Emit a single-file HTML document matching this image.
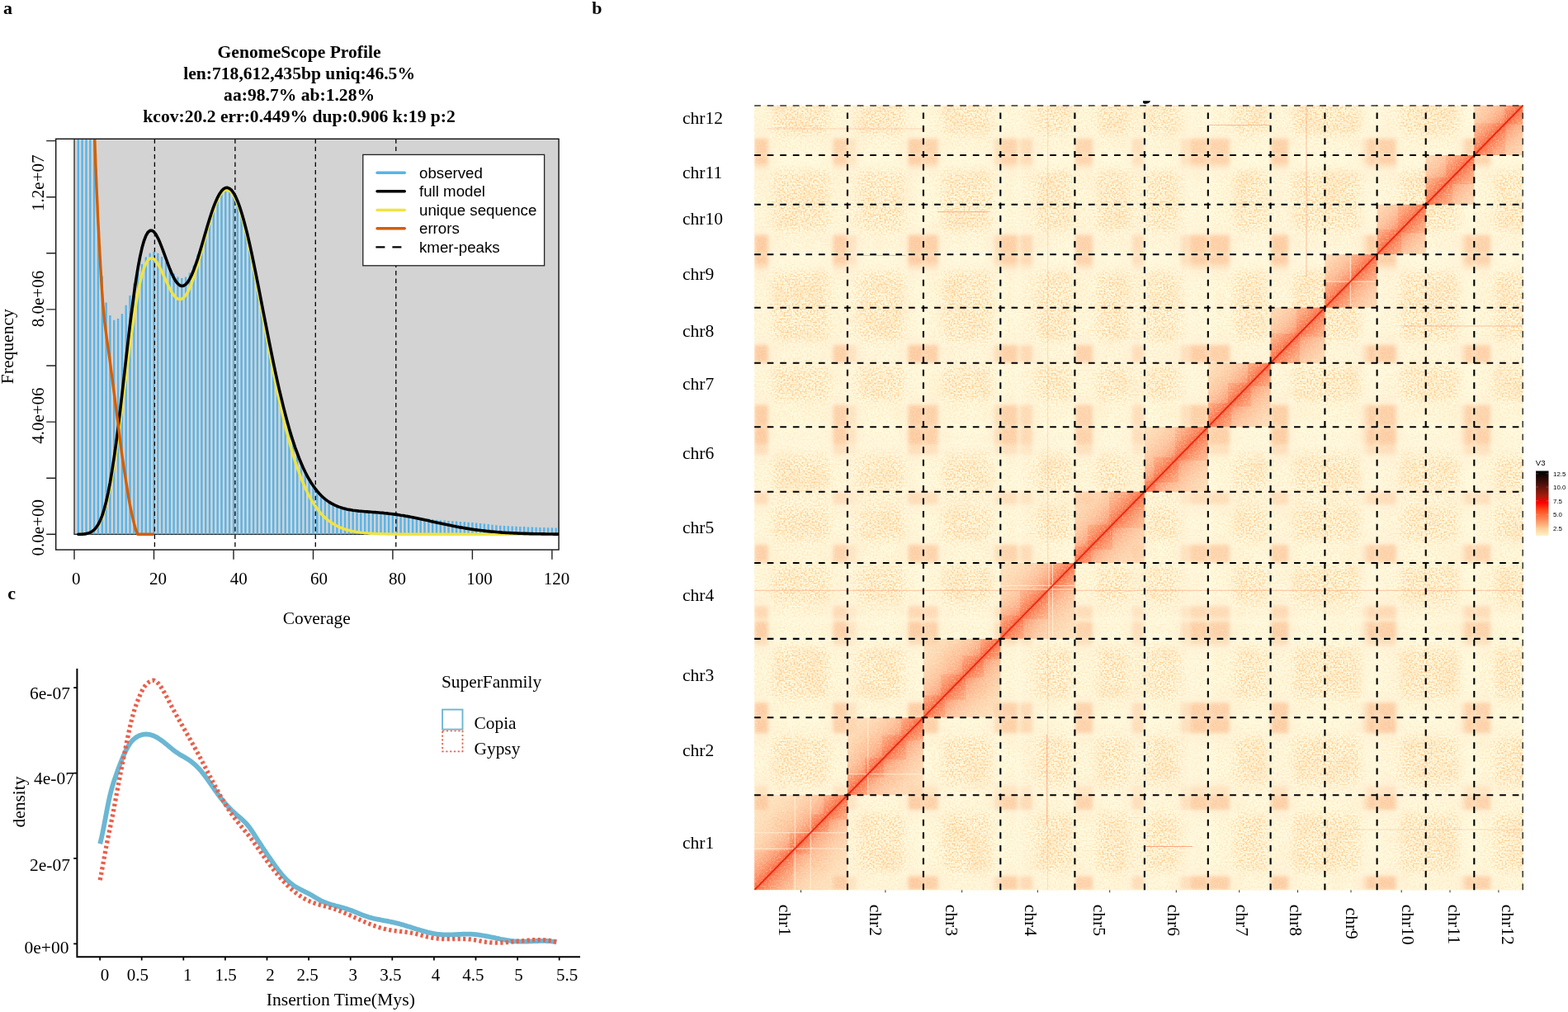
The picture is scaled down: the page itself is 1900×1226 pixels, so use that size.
<!DOCTYPE html>
<html lang="en"><head><meta charset="utf-8"><title>Figure</title>
<style>
html,body{margin:0;padding:0;background:#fff;}
body{width:1900px;height:1226px;overflow:hidden;}
svg{display:block;}
.serif{font-family:"Liberation Serif","DejaVu Serif",serif;}
.sans{font-family:"Liberation Sans","DejaVu Sans",sans-serif;}
text{fill:#000;}
</style></head>
<body>
<svg width="1900" height="1226" viewBox="0 0 1900 1226">
<rect width="1900" height="1226" fill="#fff"/>
<g id="panel-a">
<clipPath id="ca"><rect x="67.7" y="168.3" width="609.4" height="497.7"/></clipPath>
<g clip-path="url(#ca)">
<rect x="90.0" y="100" width="700" height="547.3" fill="#d3d3d3" stroke="#222" stroke-width="1.3"/>
<path d="M94.8,647.3V150M99.6,647.3V150M104.5,647.3V150M109.3,647.3V150M114.1,647.3V150M118.9,647.3V265.9M123.8,647.3V334.4M128.6,647.3V366.4M133.4,647.3V382.1M138.2,647.3V387.8M143.1,647.3V386.1M147.9,647.3V380.3M152.7,647.3V369.8M157.5,647.3V357.9M162.4,647.3V343.6M167.2,647.3V330.6M172,647.3V319.7M176.8,647.3V311.6M181.7,647.3V306.8M186.5,647.3V304.8M191.3,647.3V306.8M196.1,647.3V310.9M201,647.3V317.4M205.8,647.3V324.8M210.6,647.3V331.3M215.4,647.3V335.4M220.3,647.3V337.1M225.1,647.3V335.4M229.9,647.3V330.6M234.7,647.3V321.4M239.6,647.3V308.5M244.4,647.3V295.6M249.2,647.3V280.9M254,647.3V264.9M258.8,647.3V250.6M263.7,647.3V239.1M268.5,647.3V231.2M273.3,647.3V227.5M278.1,647.3V228.3M283,647.3V233.7M287.8,647.3V243.4M292.6,647.3V257.2M297.4,647.3V274.5M302.3,647.3V294.7M307.1,647.3V317.1M311.9,647.3V340.9M316.7,647.3V365.7M321.6,647.3V390.6M326.4,647.3V415.1M331.2,647.3V438.8M336,647.3V461.4M340.9,647.3V482.4M345.7,647.3V501.8M350.5,647.3V519.4M355.3,647.3V535.1M360.2,647.3V549M365,647.3V561.2M369.8,647.3V571.8M374.6,647.3V580.8M379.5,647.3V588.5M384.3,647.3V594.9M389.1,647.3V600.2M393.9,647.3V604.6M398.7,647.3V608.1M403.6,647.3V610.9M408.4,647.3V613.2M413.2,647.3V614.9M418,647.3V616.3M422.9,647.3V617.4M427.7,647.3V618.2M432.5,647.3V618.8M437.3,647.3V619.3M442.2,647.3V619.7M447,647.3V620.1M451.8,647.3V620.5M456.6,647.3V620.8M461.5,647.3V621.2M466.3,647.3V621.7M471.1,647.3V622.2M475.9,647.3V622.8M480.8,647.3V623.4M485.6,647.3V624.2M490.4,647.3V624.9M495.2,647.3V625.8M500.1,647.3V626.7M504.9,647.3V626.9M509.7,647.3V627.4M514.5,647.3V628M519.4,647.3V628.6M524.2,647.3V629.1M529,647.3V629.7M533.8,647.3V630.3M538.7,647.3V630.6M543.5,647.3V631M548.3,647.3V631.3M553.1,647.3V631.6M557.9,647.3V632M562.8,647.3V632.3M567.6,647.3V632.7M572.4,647.3V633M577.2,647.3V633.5M582.1,647.3V634.1M586.9,647.3V634.6M591.7,647.3V635.1M596.5,647.3V635.7M601.4,647.3V636.2M606.2,647.3V636.7M611,647.3V637M615.8,647.3V637.2M620.7,647.3V637.4M625.5,647.3V637.7M630.3,647.3V637.9M635.1,647.3V638.1M640,647.3V638.4M644.8,647.3V638.6M649.6,647.3V638.8M654.4,647.3V638.9M659.3,647.3V639M664.1,647.3V639.2M668.9,647.3V639.3M673.7,647.3V639.5" stroke="#56b4e9" stroke-width="2.4" fill="none"/>
<line x1="187.4" y1="168.3" x2="187.4" y2="666.0" stroke="#000" stroke-width="1.3" stroke-dasharray="5.4 4"/>
<line x1="284.9" y1="168.3" x2="284.9" y2="666.0" stroke="#000" stroke-width="1.3" stroke-dasharray="5.4 4"/>
<line x1="382.3" y1="168.3" x2="382.3" y2="666.0" stroke="#000" stroke-width="1.3" stroke-dasharray="5.4 4"/>
<line x1="479.8" y1="168.3" x2="479.8" y2="666.0" stroke="#000" stroke-width="1.3" stroke-dasharray="5.4 4"/>
<path d="M94.8,647.3 L97.2,647.2 L99.6,647.1 L102.1,646.9 L104.5,646.6 L106.9,646.1 L109.3,645.3 L111.7,644.1 L114.1,642.3 L116.5,639.8 L118.9,636.5 L121.4,632.2 L123.8,626.7 L126.2,619.9 L128.6,611.6 L131,601.9 L133.4,590.5 L135.8,577.6 L138.2,563.2 L140.7,547.4 L143.1,530.3 L145.5,512.3 L147.9,493.6 L150.3,474.4 L152.7,455.1 L155.1,436 L157.5,417.4 L160,399.7 L162.4,383.1 L164.8,368 L167.2,354.4 L169.6,342.7 L172,332.9 L174.4,325 L176.8,319.1 L179.2,315.2 L181.7,313.1 L184.1,312.6 L186.5,313.8 L188.9,316.2 L191.3,319.7 L193.7,324.1 L196.1,329 L198.5,334.3 L201,339.7 L203.4,344.9 L205.8,349.8 L208.2,354.1 L210.6,357.7 L213,360.3 L215.4,362 L217.8,362.6 L220.3,362.1 L222.7,360.4 L225.1,357.6 L227.5,353.7 L229.9,348.7 L232.3,342.8 L234.7,336 L237.1,328.6 L239.6,320.5 L242,312.1 L244.4,303.3 L246.8,294.5 L249.2,285.6 L251.6,277 L254,268.8 L256.4,261 L258.8,253.9 L261.3,247.5 L263.7,242 L266.1,237.4 L268.5,233.9 L270.9,231.4 L273.3,230.1 L275.7,230 L278.1,231.1 L280.6,233.3 L283,236.7 L285.4,241.2 L287.8,246.8 L290.2,253.5 L292.6,261.1 L295,269.7 L297.4,279.1 L299.9,289.2 L302.3,300 L304.7,311.3 L307.1,323.2 L309.5,335.4 L311.9,348 L314.3,360.7 L316.7,373.6 L319.1,386.6 L321.6,399.6 L324,412.4 L326.4,425.2 L328.8,437.7 L331.2,450 L333.6,462 L336,473.6 L338.4,484.9 L340.9,495.7 L343.3,506.2 L345.7,516.2 L348.1,525.7 L350.5,534.8 L352.9,543.4 L355.3,551.5 L357.7,559.2 L360.2,566.4 L362.6,573.2 L365,579.5 L367.4,585.4 L369.8,590.9 L372.2,596 L374.6,600.8 L377,605.1 L379.5,609.1 L381.9,612.8 L384.3,616.2 L386.7,619.3 L389.1,622.2 L391.5,624.7 L393.9,627.1 L396.3,629.2 L398.7,631.2 L401.2,632.9 L403.6,634.5 L406,635.9 L408.4,637.2 L410.8,638.3 L413.2,639.4 L415.6,640.3 L418,641.1 L420.5,641.9 L422.9,642.5 L425.3,643.1 L427.7,643.6 L430.1,644.1 L432.5,644.5 L434.9,644.8 L437.3,645.1 L439.8,645.4 L442.2,645.7 L444.6,645.9 L447,646.1 L449.4,646.2 L451.8,646.4 L454.2,646.5 L456.6,646.6 L459.1,646.7 L461.5,646.8 L463.9,646.9 L466.3,646.9 L468.7,647 L471.1,647 L473.5,647.1 L475.9,647.1 L478.3,647.1 L480.8,647.1 L483.2,647.2 L485.6,647.2 L488,647.2 L490.4,647.2 L492.8,647.2 L495.2,647.2 L497.6,647.3 L500.1,647.3 L502.5,647.3 L504.9,647.3 L507.3,647.3 L509.7,647.3 L512.1,647.3 L514.5,647.3 L516.9,647.3 L519.4,647.3 L521.8,647.3 L524.2,647.3 L526.6,647.3 L529,647.3 L531.4,647.3 L533.8,647.3 L536.2,647.3 L538.7,647.3 L541.1,647.3 L543.5,647.3 L545.9,647.3 L548.3,647.3 L550.7,647.3 L553.1,647.3 L555.5,647.3 L557.9,647.3 L560.4,647.3 L562.8,647.3 L565.2,647.3 L567.6,647.3 L570,647.3 L572.4,647.3 L574.8,647.3 L577.2,647.3 L579.7,647.3 L582.1,647.3 L584.5,647.3 L586.9,647.3 L589.3,647.3 L591.7,647.3 L594.1,647.3 L596.5,647.3 L599,647.3 L601.4,647.3 L603.8,647.3 L606.2,647.3 L608.6,647.3 L611,647.3 L613.4,647.3 L615.8,647.3 L618.2,647.3 L620.7,647.3 L623.1,647.3 L625.5,647.3 L627.9,647.3 L630.3,647.3 L632.7,647.3 L635.1,647.3 L637.5,647.3 L640,647.3 L642.4,647.3 L644.8,647.3 L647.2,647.3 L649.6,647.3 L652,647.3 L654.4,647.3 L656.8,647.3 L659.3,647.3 L661.7,647.3 L664.1,647.3 L666.5,647.3 L668.9,647.3 L671.3,647.3 L673.7,647.3 L676.1,647.3 L678.6,647.3" stroke="#f0e442" stroke-width="3.4" fill="none" stroke-linejoin="round" stroke-linecap="round"/>
<path d="M94.8,647.3 L97.2,647.2 L99.6,647.1 L102.1,646.9 L104.5,646.6 L106.9,646 L109.3,645.1 L111.7,643.7 L114.1,641.8 L116.5,639.1 L118.9,635.4 L121.4,630.6 L123.8,624.6 L126.2,617 L128.6,607.9 L131,597.1 L133.4,584.6 L135.8,570.3 L138.2,554.4 L140.7,537 L143.1,518.2 L145.5,498.3 L147.9,477.6 L150.3,456.4 L152.7,435.1 L155.1,414 L157.5,393.5 L160,374 L162.4,355.8 L164.8,339.1 L167.2,324.2 L169.6,311.3 L172,300.6 L174.4,292 L176.8,285.7 L179.2,281.5 L181.7,279.4 L184.1,279.3 L186.5,280.8 L188.9,283.9 L191.3,288.3 L193.7,293.6 L196.1,299.7 L198.5,306.2 L201,312.9 L203.4,319.5 L205.8,325.8 L208.2,331.5 L210.6,336.5 L213,340.6 L215.4,343.7 L217.8,345.7 L220.3,346.5 L222.7,346.1 L225.1,344.5 L227.5,341.8 L229.9,337.9 L232.3,333 L234.7,327.2 L237.1,320.6 L239.6,313.4 L242,305.6 L244.4,297.5 L246.8,289.2 L249.2,280.9 L251.6,272.8 L254,264.9 L256.4,257.5 L258.8,250.6 L261.3,244.4 L263.7,239.1 L266.1,234.7 L268.5,231.2 L270.9,228.8 L273.3,227.5 L275.7,227.3 L278.1,228.3 L280.6,230.4 L283,233.7 L285.4,238 L287.8,243.4 L290.2,249.9 L292.6,257.2 L295,265.5 L297.4,274.5 L299.9,284.3 L302.3,294.7 L304.7,305.6 L307.1,317.1 L309.5,328.9 L311.9,340.9 L314.3,353.2 L316.7,365.7 L319.1,378.1 L321.6,390.6 L324,402.9 L326.4,415.1 L328.8,427.1 L331.2,438.8 L333.6,450.3 L336,461.4 L338.4,472.1 L340.9,482.4 L343.3,492.3 L345.7,501.8 L348.1,510.8 L350.5,519.4 L352.9,527.5 L355.3,535.1 L357.7,542.3 L360.2,549 L362.6,555.4 L365,561.2 L367.4,566.7 L369.8,571.8 L372.2,576.5 L374.6,580.8 L377,584.8 L379.5,588.5 L381.9,591.8 L384.3,594.9 L386.7,597.7 L389.1,600.2 L391.5,602.5 L393.9,604.6 L396.3,606.4 L398.7,608.1 L401.2,609.6 L403.6,610.9 L406,612.1 L408.4,613.2 L410.8,614.1 L413.2,614.9 L415.6,615.7 L418,616.3 L420.5,616.9 L422.9,617.4 L425.3,617.8 L427.7,618.2 L430.1,618.5 L432.5,618.8 L434.9,619.1 L437.3,619.3 L439.8,619.5 L442.2,619.7 L444.6,619.9 L447,620.1 L449.4,620.3 L451.8,620.5 L454.2,620.6 L456.6,620.8 L459.1,621 L461.5,621.2 L463.9,621.4 L466.3,621.7 L468.7,621.9 L471.1,622.2 L473.5,622.5 L475.9,622.8 L478.3,623.1 L480.8,623.4 L483.2,623.8 L485.6,624.2 L488,624.5 L490.4,624.9 L492.8,625.4 L495.2,625.8 L497.6,626.3 L500.1,626.7 L502.5,627.2 L504.9,627.7 L507.3,628.2 L509.7,628.7 L512.1,629.2 L514.5,629.8 L516.9,630.3 L519.4,630.8 L521.8,631.4 L524.2,631.9 L526.6,632.4 L529,633 L531.4,633.5 L533.8,634 L536.2,634.5 L538.7,635.1 L541.1,635.6 L543.5,636.1 L545.9,636.6 L548.3,637.1 L550.7,637.5 L553.1,638 L555.5,638.4 L557.9,638.9 L560.4,639.3 L562.8,639.7 L565.2,640.1 L567.6,640.5 L570,640.9 L572.4,641.2 L574.8,641.6 L577.2,641.9 L579.7,642.2 L582.1,642.5 L584.5,642.8 L586.9,643.1 L589.3,643.4 L591.7,643.6 L594.1,643.9 L596.5,644.1 L599,644.3 L601.4,644.5 L603.8,644.7 L606.2,644.9 L608.6,645.1 L611,645.2 L613.4,645.4 L615.8,645.5 L618.2,645.6 L620.7,645.8 L623.1,645.9 L625.5,646 L627.9,646.1 L630.3,646.2 L632.7,646.3 L635.1,646.4 L637.5,646.4 L640,646.5 L642.4,646.6 L644.8,646.6 L647.2,646.7 L649.6,646.7 L652,646.8 L654.4,646.8 L656.8,646.9 L659.3,646.9 L661.7,647 L664.1,647 L666.5,647 L668.9,647 L671.3,647.1 L673.7,647.1 L676.1,647.1 L678.6,647.1" stroke="#000" stroke-width="3.6" fill="none" stroke-linejoin="round" stroke-linecap="round"/>
<path d="M114,150 L114.2,156.3 L114.5,162.6 L114.7,168.9 L115,175.2 L115.2,181.5 L115.5,187.8 L115.7,194.1 L115.9,200.4 L116.2,206.7 L116.4,212.9 L116.7,219.2 L116.9,225.5 L117.2,231.8 L117.5,238.1 L117.8,244.4 L118.1,250.7 L118.3,257 L118.6,263.3 L118.9,269.6 L119.3,275.9 L119.6,282.2 L119.9,288.5 L120.2,294.8 L120.6,301.1 L120.9,307.4 L121.3,313.7 L121.6,320 L122,326.3 L122.4,332.6 L122.7,338.8 L123.1,345.1 L123.5,351.4 L124,357.7 L124.4,364 L124.9,370.3 L125.5,376.6 L126.1,382.9 L126.7,389.2 L127.5,395.5 L128.3,401.8 L129.1,408.1 L130,414.4 L130.9,420.7 L131.8,427 L132.7,433.3 L133.5,439.6 L134.3,445.9 L135.1,452.2 L136,458.5 L136.8,464.7 L137.6,471 L138.4,477.3 L139.2,483.6 L140,489.9 L140.8,496.2 L141.6,502.5 L142.5,508.8 L143.3,515.1 L144,521.4 L144.8,527.7 L145.6,534 L146.4,540.3 L147.2,546.6 L148.1,552.9 L149,559.2 L149.9,565.5 L150.9,571.8 L151.9,578.1 L152.9,584.4 L153.9,590.6 L154.9,596.9 L155.9,603.2 L157,609.5 L158.3,615.8 L159.6,622.1 L161.1,628.4 L162.6,634.7 L164.3,641 L166.8,647.3 L186.5,647.3" stroke="#d55e00" stroke-width="3.4" fill="none" stroke-linejoin="round" stroke-linecap="butt"/>
</g>
<rect x="67.7" y="168.3" width="609.4" height="497.7" fill="none" stroke="#111" stroke-width="1.4"/>
<path d="M90,666.0V677.7M186.5,666.0V677.7M283,666.0V677.7M379.5,666.0V677.7M475.9,666.0V677.7M572.4,666.0V677.7M668.9,666.0V677.7M67.7,647.3H56.2M67.7,579.2H56.2M67.7,511.1H56.2M67.7,443H56.2M67.7,374.9H56.2M67.7,306.8H56.2M67.7,238.7H56.2M67.7,170.6H56.2" stroke="#222" stroke-width="1.4" fill="none"/>
<rect x="439.8" y="187.4" width="219.8" height="134.4" fill="#fff" stroke="#222" stroke-width="1.3"/>
<line x1="457" y1="209.3" x2="490.3" y2="209.3" stroke="#56b4e9" stroke-width="3.4" stroke-linecap="round"/>
<line x1="457" y1="231.8" x2="490.3" y2="231.8" stroke="#000" stroke-width="3.4" stroke-linecap="round"/>
<line x1="457" y1="254.5" x2="490.3" y2="254.5" stroke="#f0e442" stroke-width="3.4" stroke-linecap="round"/>
<line x1="457" y1="276.8" x2="490.3" y2="276.8" stroke="#d55e00" stroke-width="3.4" stroke-linecap="round"/>
<line x1="455.4" y1="299.3" x2="491.9" y2="299.3" stroke="#000" stroke-width="2.2" stroke-dasharray="11 9"/>
<text x="508" y="215.6" class="sans" font-size="18.7">observed</text>
<text x="508" y="238.1" class="sans" font-size="18.7">full model</text>
<text x="508" y="260.8" class="sans" font-size="18.7">unique sequence</text>
<text x="508" y="283.1" class="sans" font-size="18.7">errors</text>
<text x="508" y="305.6" class="sans" font-size="18.7">kmer-peaks</text>
<text x="362.6" y="70.1" class="serif" font-weight="bold" font-size="21.6" text-anchor="middle">GenomeScope Profile</text>
<text x="362.6" y="95.8" class="serif" font-weight="bold" font-size="21.6" text-anchor="middle">len:718,612,435bp uniq:46.5%</text>
<text x="362.6" y="121.7" class="serif" font-weight="bold" font-size="21.6" text-anchor="middle">aa:98.7% ab:1.28%</text>
<text x="362.6" y="147.8" class="serif" font-weight="bold" font-size="21.6" text-anchor="middle">kcov:20.2 err:0.449% dup:0.906 k:19 p:2</text>
<text x="92.2" y="708" class="serif" font-size="21" text-anchor="middle">0</text>
<text x="191.5" y="708" class="serif" font-size="21" text-anchor="middle">20</text>
<text x="289.3" y="708" class="serif" font-size="21" text-anchor="middle">40</text>
<text x="386.5" y="708" class="serif" font-size="21" text-anchor="middle">60</text>
<text x="481.5" y="708" class="serif" font-size="21" text-anchor="middle">80</text>
<text x="581.1" y="708" class="serif" font-size="21" text-anchor="middle">100</text>
<text x="674.6" y="708" class="serif" font-size="21" text-anchor="middle">120</text>
<text x="383.7" y="755.5" class="serif" font-size="21.4" text-anchor="middle">Coverage</text>
<text transform="translate(52.9,221.7) rotate(-90)" class="serif" font-size="21" text-anchor="middle">1.2e+07</text>
<text transform="translate(52.9,362) rotate(-90)" class="serif" font-size="21" text-anchor="middle">8.0e+06</text>
<text transform="translate(52.9,503.6) rotate(-90)" class="serif" font-size="21" text-anchor="middle">4.0e+06</text>
<text transform="translate(52.9,639.2) rotate(-90)" class="serif" font-size="21" text-anchor="middle">0.0e+00</text>
<text transform="translate(15.9,419.7) rotate(-90)" class="serif" font-size="21.6" text-anchor="middle">Frequency</text>
<text x="4" y="17" class="serif" font-weight="bold" font-size="22">a</text>
</g>
<g id="panel-c">
<path d="M93.4,811V1159.2H702" stroke="#000" stroke-width="2" fill="none" stroke-linecap="square"/>
<path d="M121.1,1159.2V1163.6M171.7,1159.2V1163.6M222.3,1159.2V1163.6M272.9,1159.2V1163.6M323.5,1159.2V1163.6M374.1,1159.2V1163.6M424.7,1159.2V1163.6M475.3,1159.2V1163.6M525.9,1159.2V1163.6M576.5,1159.2V1163.6M627.1,1159.2V1163.6M677.7,1159.2V1163.6M93.4,833.1H89.2M93.4,936.7H89.2M93.4,1039.9H89.2M93.4,1143.4H89.2" stroke="#000" stroke-width="1.7" fill="none"/>
<path d="M121.2,1022.3 L122.7,1016.3 L124.2,1009.4 L125.7,1001.9 L127.2,994 L128.7,986 L130.2,978.1 L131.7,970.6 L133.2,963.9 L134.7,957.9 L136.2,952.5 L137.7,947.6 L139.2,943.1 L140.7,938.9 L142.2,934.7 L143.7,930.6 L145.2,926.6 L146.7,922.7 L148.2,919 L149.7,915.4 L151.2,912.1 L152.7,908.9 L154.2,906.1 L155.7,903.5 L157.2,901.1 L158.7,899.1 L160.2,897.4 L161.7,895.9 L163.2,894.6 L164.7,893.5 L166.2,892.5 L167.7,891.7 L169.2,891 L170.7,890.5 L172.2,890.1 L173.7,889.7 L175.2,889.6 L176.7,889.5 L178.2,889.5 L179.7,889.7 L181.2,889.9 L182.7,890.3 L184.2,890.7 L185.7,891.3 L187.2,891.9 L188.7,892.6 L190.2,893.4 L191.7,894.3 L193.2,895.3 L194.7,896.3 L196.2,897.4 L197.7,898.5 L199.2,899.7 L200.7,900.9 L202.2,902.1 L203.7,903.4 L205.2,904.6 L206.7,905.9 L208.2,907.1 L209.7,908.4 L211.2,909.5 L212.7,910.7 L214.2,911.7 L215.7,912.7 L217.2,913.7 L218.7,914.6 L220.2,915.4 L221.7,916.3 L223.2,917.1 L224.7,918 L226.2,918.9 L227.7,919.8 L229.2,920.8 L230.7,921.9 L232.2,923 L233.7,924.2 L235.2,925.5 L236.7,926.8 L238.2,928.2 L239.7,929.7 L241.2,931.3 L242.7,932.9 L244.2,934.7 L245.7,936.6 L247.2,938.5 L248.7,940.5 L250.2,942.5 L251.7,944.6 L253.2,946.7 L254.7,948.8 L256.2,951 L257.7,953.2 L259.2,955.3 L260.7,957.5 L262.2,959.6 L263.7,961.7 L265.2,963.7 L266.7,965.7 L268.2,967.7 L269.7,969.5 L271.2,971.3 L272.7,973.1 L274.2,974.8 L275.7,976.4 L277.2,978 L278.7,979.6 L280.2,981.1 L281.7,982.5 L283.2,983.9 L284.7,985.3 L286.2,986.6 L287.7,987.9 L289.2,989.2 L290.7,990.5 L292.2,991.8 L293.7,993.1 L295.2,994.5 L296.7,996 L298.2,997.5 L299.7,999.2 L301.2,1001.1 L302.7,1003.1 L304.2,1005.2 L305.7,1007.4 L307.2,1009.7 L308.7,1012.1 L310.2,1014.4 L311.7,1016.8 L313.2,1019.1 L314.7,1021.4 L316.2,1023.7 L317.7,1026 L319.2,1028.3 L320.7,1030.5 L322.2,1032.7 L323.7,1035 L325.2,1037.2 L326.7,1039.3 L328.2,1041.5 L329.7,1043.7 L331.2,1045.8 L332.7,1047.9 L334.2,1050 L335.7,1052 L337.2,1054 L338.7,1055.9 L340.2,1057.8 L341.7,1059.6 L343.2,1061.3 L344.7,1062.9 L346.2,1064.5 L347.7,1066 L349.2,1067.4 L350.7,1068.8 L352.2,1070 L353.7,1071.2 L355.2,1072.3 L356.7,1073.3 L358.2,1074.3 L359.7,1075.2 L361.2,1076.1 L362.7,1076.9 L364.2,1077.7 L365.7,1078.4 L367.2,1079.2 L368.7,1079.9 L370.2,1080.7 L371.7,1081.4 L373.2,1082.2 L374.7,1082.9 L376.2,1083.7 L377.7,1084.6 L379.2,1085.5 L380.7,1086.4 L382.2,1087.3 L383.7,1088.2 L385.2,1089.1 L386.7,1089.9 L388.2,1090.7 L389.7,1091.5 L391.2,1092.2 L392.7,1092.8 L394.2,1093.4 L395.7,1094 L397.2,1094.6 L398.7,1095.1 L400.2,1095.5 L401.7,1096 L403.2,1096.4 L404.7,1096.8 L406.2,1097.3 L407.7,1097.7 L409.2,1098 L410.7,1098.4 L412.2,1098.8 L413.7,1099.2 L415.2,1099.6 L416.7,1100 L418.2,1100.5 L419.7,1100.9 L421.2,1101.4 L422.7,1101.9 L424.2,1102.4 L425.7,1103 L427.2,1103.5 L428.7,1104.1 L430.2,1104.8 L431.7,1105.4 L433.2,1106 L434.7,1106.6 L436.2,1107.3 L437.7,1107.9 L439.2,1108.5 L440.7,1109 L442.2,1109.6 L443.7,1110.1 L445.2,1110.6 L446.7,1111.1 L448.2,1111.5 L449.7,1111.9 L451.2,1112.3 L452.7,1112.6 L454.2,1113 L455.7,1113.3 L457.2,1113.6 L458.7,1113.9 L460.2,1114.2 L461.7,1114.5 L463.2,1114.8 L464.7,1115.1 L466.2,1115.4 L467.7,1115.6 L469.2,1115.9 L470.7,1116.2 L472.2,1116.5 L473.7,1116.8 L475.2,1117.1 L476.7,1117.4 L478.2,1117.8 L479.7,1118.1 L481.2,1118.5 L482.7,1118.9 L484.2,1119.3 L485.7,1119.7 L487.2,1120.1 L488.7,1120.5 L490.2,1121 L491.7,1121.4 L493.2,1121.9 L494.7,1122.4 L496.2,1122.8 L497.7,1123.3 L499.2,1123.8 L500.7,1124.3 L502.2,1124.7 L503.7,1125.2 L505.2,1125.7 L506.7,1126.1 L508.2,1126.6 L509.7,1127 L511.2,1127.5 L512.7,1127.9 L514.2,1128.3 L515.7,1128.7 L517.2,1129.1 L518.7,1129.5 L520.2,1129.8 L521.7,1130.2 L523.2,1130.5 L524.7,1130.8 L526.2,1131.1 L527.7,1131.3 L529.2,1131.6 L530.7,1131.8 L532.2,1131.9 L533.7,1132.1 L535.2,1132.2 L536.7,1132.3 L538.2,1132.4 L539.7,1132.4 L541.2,1132.4 L542.7,1132.4 L544.2,1132.4 L545.7,1132.4 L547.2,1132.3 L548.7,1132.3 L550.2,1132.2 L551.7,1132.1 L553.2,1132.1 L554.7,1132 L556.2,1131.9 L557.7,1131.8 L559.2,1131.8 L560.7,1131.7 L562.2,1131.7 L563.7,1131.6 L565.2,1131.6 L566.7,1131.6 L568.2,1131.6 L569.7,1131.7 L571.2,1131.7 L572.7,1131.8 L574.2,1131.9 L575.7,1132.1 L577.2,1132.2 L578.7,1132.4 L580.2,1132.6 L581.7,1132.8 L583.2,1133 L584.7,1133.3 L586.2,1133.5 L587.7,1133.8 L589.2,1134.1 L590.7,1134.4 L592.2,1134.7 L593.7,1135 L595.2,1135.3 L596.7,1135.6 L598.2,1135.9 L599.7,1136.2 L601.2,1136.5 L602.7,1136.8 L604.2,1137.1 L605.7,1137.5 L607.2,1137.8 L608.7,1138 L610.2,1138.3 L611.7,1138.6 L613.2,1138.9 L614.7,1139.1 L616.2,1139.3 L617.7,1139.6 L619.2,1139.8 L620.7,1140 L622.2,1140.1 L623.7,1140.3 L625.2,1140.4 L626.7,1140.5 L628.2,1140.5 L629.7,1140.6 L631.2,1140.6 L632.7,1140.6 L634.2,1140.6 L635.7,1140.6 L637.2,1140.6 L638.7,1140.5 L640.2,1140.5 L641.7,1140.4 L643.2,1140.3 L644.7,1140.3 L646.2,1140.2 L647.7,1140.1 L649.2,1140.1 L650.7,1140 L652.2,1140 L653.7,1139.9 L655.2,1139.9 L656.7,1139.9 L658.2,1139.9 L659.7,1139.9 L661.2,1139.9 L662.7,1140 L664.2,1140.1 L665.7,1140.2 L667.2,1140.3 L668.7,1140.5 L670.2,1140.7 L671.7,1140.9 L673.2,1141.2 L674.4,1141.4" stroke="#6bb7d3" stroke-width="5.8" fill="none" stroke-linejoin="round"/>
<path d="M121.2,1066.2 L122.7,1058.4 L124.2,1050.3 L125.7,1042.2 L127.2,1034 L128.7,1026 L130.2,1018.2 L131.7,1010.8 L133.2,1003.7 L134.7,996.6 L136.2,989.2 L137.7,981.4 L139.2,973.4 L140.7,965.2 L142.2,957.1 L143.7,949.2 L145.2,941.3 L146.7,933.5 L148.2,925.9 L149.7,918.2 L151.2,910.7 L152.7,903.3 L154.2,895.9 L155.7,888.7 L157.2,881.8 L158.7,875.3 L160.2,869.3 L161.7,863.9 L163.2,859.1 L164.7,854.7 L166.2,850.6 L167.7,846.8 L169.2,843.1 L170.7,839.7 L172.2,836.6 L173.7,833.9 L175.2,831.7 L176.7,829.8 L178.2,828.3 L179.7,827 L181.2,825.8 L182.7,824.9 L184.2,824.4 L185.7,824.2 L187.2,824.5 L188.7,825.3 L190.2,826.4 L191.7,827.9 L193.2,829.7 L194.7,831.7 L196.2,834 L197.7,836.5 L199.2,839.1 L200.7,841.9 L202.2,844.7 L203.7,847.6 L205.2,850.5 L206.7,853.3 L208.2,856.2 L209.7,859 L211.2,861.7 L212.7,864.5 L214.2,867.2 L215.7,869.9 L217.2,872.6 L218.7,875.2 L220.2,877.9 L221.7,880.5 L223.2,883.1 L224.7,885.8 L226.2,888.4 L227.7,891.1 L229.2,893.7 L230.7,896.3 L232.2,899 L233.7,901.7 L235.2,904.4 L236.7,907.1 L238.2,909.8 L239.7,912.6 L241.2,915.4 L242.7,918.2 L244.2,921.1 L245.7,923.9 L247.2,926.8 L248.7,929.6 L250.2,932.5 L251.7,935.4 L253.2,938.3 L254.7,941.1 L256.2,944 L257.7,946.8 L259.2,949.7 L260.7,952.5 L262.2,955.3 L263.7,958 L265.2,960.8 L266.7,963.5 L268.2,966.1 L269.7,968.7 L271.2,971.3 L272.7,973.8 L274.2,976.3 L275.7,978.7 L277.2,981 L278.7,983.3 L280.2,985.5 L281.7,987.6 L283.2,989.6 L284.7,991.6 L286.2,993.6 L287.7,995.5 L289.2,997.3 L290.7,999.2 L292.2,1001 L293.7,1002.8 L295.2,1004.7 L296.7,1006.5 L298.2,1008.3 L299.7,1010.2 L301.2,1012 L302.7,1014 L304.2,1015.9 L305.7,1017.9 L307.2,1020 L308.7,1022.1 L310.2,1024.2 L311.7,1026.3 L313.2,1028.5 L314.7,1030.6 L316.2,1032.8 L317.7,1034.9 L319.2,1037.1 L320.7,1039.2 L322.2,1041.3 L323.7,1043.4 L325.2,1045.4 L326.7,1047.4 L328.2,1049.4 L329.7,1051.3 L331.2,1053.3 L332.7,1055.1 L334.2,1057 L335.7,1058.8 L337.2,1060.6 L338.7,1062.3 L340.2,1064.1 L341.7,1065.7 L343.2,1067.4 L344.7,1069 L346.2,1070.5 L347.7,1072.1 L349.2,1073.5 L350.7,1075 L352.2,1076.4 L353.7,1077.7 L355.2,1079 L356.7,1080.3 L358.2,1081.5 L359.7,1082.6 L361.2,1083.8 L362.7,1084.8 L364.2,1085.8 L365.7,1086.8 L367.2,1087.7 L368.7,1088.6 L370.2,1089.4 L371.7,1090.2 L373.2,1090.9 L374.7,1091.6 L376.2,1092.3 L377.7,1092.9 L379.2,1093.4 L380.7,1094 L382.2,1094.5 L383.7,1095 L385.2,1095.5 L386.7,1095.9 L388.2,1096.4 L389.7,1096.8 L391.2,1097.2 L392.7,1097.6 L394.2,1098 L395.7,1098.4 L397.2,1098.8 L398.7,1099.3 L400.2,1099.7 L401.7,1100.1 L403.2,1100.6 L404.7,1101.1 L406.2,1101.6 L407.7,1102.1 L409.2,1102.7 L410.7,1103.2 L412.2,1103.8 L413.7,1104.4 L415.2,1105 L416.7,1105.7 L418.2,1106.3 L419.7,1106.9 L421.2,1107.6 L422.7,1108.3 L424.2,1108.9 L425.7,1109.6 L427.2,1110.3 L428.7,1111 L430.2,1111.7 L431.7,1112.4 L433.2,1113 L434.7,1113.7 L436.2,1114.4 L437.7,1115.1 L439.2,1115.7 L440.7,1116.4 L442.2,1117 L443.7,1117.7 L445.2,1118.3 L446.7,1118.9 L448.2,1119.5 L449.7,1120.1 L451.2,1120.7 L452.7,1121.2 L454.2,1121.8 L455.7,1122.3 L457.2,1122.8 L458.7,1123.3 L460.2,1123.8 L461.7,1124.2 L463.2,1124.6 L464.7,1125 L466.2,1125.4 L467.7,1125.7 L469.2,1126.1 L470.7,1126.4 L472.2,1126.7 L473.7,1126.9 L475.2,1127.2 L476.7,1127.4 L478.2,1127.6 L479.7,1127.8 L481.2,1128 L482.7,1128.1 L484.2,1128.3 L485.7,1128.4 L487.2,1128.6 L488.7,1128.7 L490.2,1128.9 L491.7,1129.1 L493.2,1129.3 L494.7,1129.5 L496.2,1129.7 L497.7,1130 L499.2,1130.3 L500.7,1130.6 L502.2,1130.9 L503.7,1131.3 L505.2,1131.7 L506.7,1132 L508.2,1132.4 L509.7,1132.8 L511.2,1133.2 L512.7,1133.6 L514.2,1134 L515.7,1134.4 L517.2,1134.8 L518.7,1135.1 L520.2,1135.4 L521.7,1135.7 L523.2,1136 L524.7,1136.3 L526.2,1136.5 L527.7,1136.7 L529.2,1136.9 L530.7,1137.1 L532.2,1137.3 L533.7,1137.4 L535.2,1137.5 L536.7,1137.6 L538.2,1137.6 L539.7,1137.7 L541.2,1137.7 L542.7,1137.7 L544.2,1137.7 L545.7,1137.7 L547.2,1137.7 L548.7,1137.6 L550.2,1137.6 L551.7,1137.6 L553.2,1137.5 L554.7,1137.5 L556.2,1137.5 L557.7,1137.5 L559.2,1137.5 L560.7,1137.5 L562.2,1137.5 L563.7,1137.6 L565.2,1137.6 L566.7,1137.7 L568.2,1137.9 L569.7,1138 L571.2,1138.2 L572.7,1138.4 L574.2,1138.6 L575.7,1138.8 L577.2,1139.1 L578.7,1139.4 L580.2,1139.7 L581.7,1140 L583.2,1140.2 L584.7,1140.5 L586.2,1140.8 L587.7,1141 L589.2,1141.3 L590.7,1141.5 L592.2,1141.6 L593.7,1141.8 L595.2,1141.9 L596.7,1142 L598.2,1142 L599.7,1142.1 L601.2,1142.1 L602.7,1142.1 L604.2,1142.1 L605.7,1142.1 L607.2,1142 L608.7,1142 L610.2,1141.9 L611.7,1141.8 L613.2,1141.7 L614.7,1141.6 L616.2,1141.4 L617.7,1141.3 L619.2,1141.2 L620.7,1141 L622.2,1140.9 L623.7,1140.7 L625.2,1140.6 L626.7,1140.4 L628.2,1140.2 L629.7,1140.1 L631.2,1139.9 L632.7,1139.8 L634.2,1139.6 L635.7,1139.5 L637.2,1139.3 L638.7,1139.2 L640.2,1139.1 L641.7,1139 L643.2,1138.9 L644.7,1138.8 L646.2,1138.7 L647.7,1138.6 L649.2,1138.6 L650.7,1138.6 L652.2,1138.6 L653.7,1138.6 L655.2,1138.6 L656.7,1138.6 L658.2,1138.7 L659.7,1138.8 L661.2,1138.9 L662.7,1139 L664.2,1139.2 L665.7,1139.4 L667.2,1139.6 L668.7,1139.8 L670.2,1140.1 L671.7,1140.4 L673.2,1140.7 L674.4,1141" stroke="#e8604c" stroke-width="5.3" fill="none" stroke-linejoin="round" stroke-dasharray="3.2 3.3"/>
<text x="126.9" y="1187.6" class="serif" font-size="21" text-anchor="middle">0</text>
<text x="166.9" y="1187.6" class="serif" font-size="21" text-anchor="middle">0.5</text>
<text x="227.2" y="1187.6" class="serif" font-size="21" text-anchor="middle">1</text>
<text x="273.5" y="1187.6" class="serif" font-size="21" text-anchor="middle">1.5</text>
<text x="327.6" y="1187.6" class="serif" font-size="21" text-anchor="middle">2</text>
<text x="372.6" y="1187.6" class="serif" font-size="21" text-anchor="middle">2.5</text>
<text x="427.8" y="1187.6" class="serif" font-size="21" text-anchor="middle">3</text>
<text x="473.4" y="1187.6" class="serif" font-size="21" text-anchor="middle">3.5</text>
<text x="528" y="1187.6" class="serif" font-size="21" text-anchor="middle">4</text>
<text x="573.3" y="1187.6" class="serif" font-size="21" text-anchor="middle">4.5</text>
<text x="628.6" y="1187.6" class="serif" font-size="21" text-anchor="middle">5</text>
<text x="687.2" y="1187.6" class="serif" font-size="21" text-anchor="middle">5.5</text>
<text x="412.8" y="1218.2" class="serif" font-size="21.7" text-anchor="middle">Insertion Time(Mys)</text>
<text x="85" y="846.6" class="serif" font-size="21.5" text-anchor="end">6e-07</text>
<text x="90" y="950" class="serif" font-size="21.5" text-anchor="end">4e-07</text>
<text x="85" y="1054.8" class="serif" font-size="21.5" text-anchor="end">2e-07</text>
<text x="83.4" y="1154.8" class="serif" font-size="21.5" text-anchor="end">0e+00</text>
<text transform="translate(29.5,971.5) rotate(-90)" class="serif" font-size="21.5" text-anchor="middle">density</text>
<text x="534.9" y="833.4" class="serif" font-size="21.4">SuperFanmily</text>
<rect x="536.1" y="859.6" width="24.4" height="24" fill="none" stroke="#6bb7d3" stroke-width="1.9"/>
<rect x="536.1" y="885.5" width="24.4" height="24.8" fill="none" stroke="#e8604c" stroke-width="1.7" stroke-dasharray="2.2 2.6"/>
<text x="574.5" y="882.8" class="serif" font-size="21.4">Copia</text>
<text x="574.5" y="914.2" class="serif" font-size="21.4">Gypsy</text>
<text x="9.3" y="726" class="serif" font-weight="bold" font-size="22">c</text>
</g>
<g id="panel-b">
<defs>
<clipPath id="cb"><rect x="914.1" y="127.6" width="931.4" height="950.7"/></clipPath>
<linearGradient id="dg" gradientUnits="userSpaceOnUse" x1="914.1" y1="1078.3" x2="992.68" y2="1155.28" spreadMethod="reflect">
<stop offset="0" stop-color="#fb7a52" stop-opacity="1"/>
<stop offset="0.045" stop-color="#fc8c64" stop-opacity="0.95"/>
<stop offset="0.11" stop-color="#fca078" stop-opacity="0.82"/>
<stop offset="0.2" stop-color="#fdb088" stop-opacity="0.68"/>
<stop offset="0.32" stop-color="#fdbc92" stop-opacity="0.5"/>
<stop offset="0.455" stop-color="#fdc498" stop-opacity="0.32"/>
<stop offset="0.64" stop-color="#fdca9c" stop-opacity="0.13"/>
<stop offset="1" stop-color="#fdcc9c" stop-opacity="0.03"/>
</linearGradient>
<linearGradient id="dg2" gradientUnits="userSpaceOnUse" x1="914.1" y1="1078.3" x2="942.67" y2="1106.29" spreadMethod="reflect">
<stop offset="0" stop-color="#fa6a44" stop-opacity="0.85"/>
<stop offset="0.15" stop-color="#fb7a50" stop-opacity="0.62"/>
<stop offset="0.4" stop-color="#fc8c60" stop-opacity="0.42"/>
<stop offset="0.7" stop-color="#fc9a6c" stop-opacity="0.28"/>
<stop offset="1" stop-color="#fda474" stop-opacity="0.18"/>
</linearGradient>
<filter id="nz3" x="0" y="0" width="100%" height="100%" color-interpolation-filters="sRGB">
<feTurbulence type="fractalNoise" baseFrequency="0.035" numOctaves="2" seed="11"/>
<feColorMatrix type="matrix" values="0 0 0 0 0.996  0 0 0 0 0.83  0 0 0 0 0.64  0 0 3 0 -1.3"/>
</filter>
<filter id="nz" x="0" y="0" width="100%" height="100%" color-interpolation-filters="sRGB">
<feTurbulence type="fractalNoise" baseFrequency="0.5" numOctaves="1" seed="7"/>
<feColorMatrix type="matrix" values="0 0 0 0 0.996  0 0 0 0 0.81  0 0 0 0 0.58  4.5 0 0 0 -1.97"/>
</filter>
<filter id="nz2" x="0" y="0" width="100%" height="100%" color-interpolation-filters="sRGB">
<feTurbulence type="fractalNoise" baseFrequency="0.6" numOctaves="1" seed="23"/>
<feColorMatrix type="matrix" values="0 0 0 0 1  0 0 0 0 0.975  0 0 0 0 0.87  0 3.5 0 0 -1.7"/>
</filter>
<filter id="bl5" x="-5%" y="-5%" width="110%" height="110%"><feGaussianBlur stdDeviation="5"/></filter>
<filter id="bl3" x="-5%" y="-5%" width="110%" height="110%"><feGaussianBlur stdDeviation="5"/></filter>
<filter id="bl1" x="-5%" y="-5%" width="110%" height="110%"><feGaussianBlur stdDeviation="2.2"/></filter>
<mask id="mx" maskUnits="userSpaceOnUse" x="914.1" y="127.6" width="931.4" height="950.7">
<g filter="url(#bl5)">
<rect x="914.1" y="97.6" width="25.9" height="1010.7" fill="#fff" fill-opacity="0.12"/>
<rect x="1000" y="97.6" width="45" height="1010.7" fill="#fff" fill-opacity="0.12"/>
<rect x="1090" y="97.6" width="56" height="1010.7" fill="#fff" fill-opacity="0.12"/>
<rect x="1196" y="97.6" width="64" height="1010.7" fill="#fff" fill-opacity="0.12"/>
<rect x="1303" y="97.6" width="31" height="1010.7" fill="#fff" fill-opacity="0.10"/>
<rect x="1362" y="97.6" width="24.5" height="1010.7" fill="#fff" fill-opacity="0.10"/>
<rect x="1422" y="97.6" width="78" height="1010.7" fill="#fff" fill-opacity="0.12"/>
<rect x="1540" y="97.6" width="30" height="1010.7" fill="#fff" fill-opacity="0.12"/>
<rect x="1642" y="97.6" width="58" height="1010.7" fill="#fff" fill-opacity="0.12"/>
<rect x="1762" y="97.6" width="52" height="1010.7" fill="#fff" fill-opacity="0.12"/>
</g><g filter="url(#bl1)">
<rect x="914.1" y="97.6" width="16.5" height="1010.7" fill="#fff" fill-opacity="1.00"/>
<rect x="1009.5" y="97.6" width="17" height="1010.7" fill="#fff" fill-opacity="0.90"/>
<rect x="1027.5" y="97.6" width="10" height="1010.7" fill="#fff" fill-opacity="0.40"/>
<rect x="1100.4" y="97.6" width="18" height="1010.7" fill="#fff" fill-opacity="1.00"/>
<rect x="1119.5" y="97.6" width="17.1" height="1010.7" fill="#fff" fill-opacity="0.90"/>
<rect x="1204.8" y="97.6" width="7.2" height="1010.7" fill="#fff" fill-opacity="0.55"/>
<rect x="1212.8" y="97.6" width="20.2" height="1010.7" fill="#fff" fill-opacity="0.90"/>
<rect x="1236" y="97.6" width="15" height="1010.7" fill="#fff" fill-opacity="0.65"/>
<rect x="1303" y="97.6" width="21" height="1010.7" fill="#fff" fill-opacity="0.85"/>
<rect x="1372" y="97.6" width="14.3" height="1010.7" fill="#fff" fill-opacity="0.55"/>
<rect x="1431" y="97.6" width="12" height="1010.7" fill="#fff" fill-opacity="0.50"/>
<rect x="1443" y="97.6" width="20" height="1010.7" fill="#fff" fill-opacity="0.95"/>
<rect x="1464.6" y="97.6" width="25.4" height="1010.7" fill="#fff" fill-opacity="0.90"/>
<rect x="1540.2" y="97.6" width="20.8" height="1010.7" fill="#fff" fill-opacity="0.95"/>
<rect x="1651" y="97.6" width="6" height="1010.7" fill="#fff" fill-opacity="0.45"/>
<rect x="1657" y="97.6" width="10.8" height="1010.7" fill="#fff" fill-opacity="0.95"/>
<rect x="1669.3" y="97.6" width="22.3" height="1010.7" fill="#fff" fill-opacity="0.95"/>
<rect x="1771" y="97.6" width="5" height="1010.7" fill="#fff" fill-opacity="0.45"/>
<rect x="1776" y="97.6" width="9.6" height="1010.7" fill="#fff" fill-opacity="0.90"/>
<rect x="1787" y="97.6" width="19" height="1010.7" fill="#fff" fill-opacity="0.85"/>
</g></mask></defs>
<g clip-path="url(#cb)">
<rect x="914.1" y="127.6" width="931.4" height="950.7" fill="#fffbe1"/>
<rect x="914.1" y="127.6" width="931.4" height="950.7" filter="url(#nz3)" opacity="0.25"/>
<rect x="914.1" y="127.6" width="931.4" height="950.7" filter="url(#nz)"/>
<g filter="url(#bl3)">
<rect x="908.1" y="107.6" width="28.5" height="990.7" fill="#fffbe1" opacity="0.66"/>
<rect x="894.1" y="1055.3" width="971.4" height="29.1" fill="#fffbe1" opacity="0.66"/>
<rect x="1003.5" y="107.6" width="29" height="990.7" fill="#fffbe1" opacity="0.62"/>
<rect x="894.1" y="957.4" width="971.4" height="29.6" fill="#fffbe1" opacity="0.62"/>
<rect x="1021.5" y="107.6" width="22" height="990.7" fill="#fffbe1" opacity="0.38"/>
<rect x="894.1" y="946.2" width="971.4" height="22.5" fill="#fffbe1" opacity="0.38"/>
<rect x="1094.4" y="107.6" width="30" height="990.7" fill="#fffbe1" opacity="0.66"/>
<rect x="894.1" y="863.6" width="971.4" height="30.6" fill="#fffbe1" opacity="0.66"/>
<rect x="1113.5" y="107.6" width="29.1" height="990.7" fill="#fffbe1" opacity="0.62"/>
<rect x="894.1" y="845.1" width="971.4" height="29.7" fill="#fffbe1" opacity="0.62"/>
<rect x="1198.8" y="107.6" width="19.2" height="990.7" fill="#fffbe1" opacity="0.46"/>
<rect x="894.1" y="768.1" width="971.4" height="19.6" fill="#fffbe1" opacity="0.46"/>
<rect x="1206.8" y="107.6" width="32.2" height="990.7" fill="#fffbe1" opacity="0.62"/>
<rect x="894.1" y="746.7" width="971.4" height="32.9" fill="#fffbe1" opacity="0.62"/>
<rect x="1230" y="107.6" width="27" height="990.7" fill="#fffbe1" opacity="0.51"/>
<rect x="894.1" y="728.3" width="971.4" height="27.6" fill="#fffbe1" opacity="0.51"/>
<rect x="1297" y="107.6" width="33" height="990.7" fill="#fffbe1" opacity="0.60"/>
<rect x="894.1" y="653.8" width="971.4" height="33.7" fill="#fffbe1" opacity="0.60"/>
<rect x="1366" y="107.6" width="26.3" height="990.7" fill="#fffbe1" opacity="0.46"/>
<rect x="894.1" y="590.2" width="971.4" height="26.8" fill="#fffbe1" opacity="0.46"/>
<rect x="1425" y="107.6" width="24" height="990.7" fill="#fffbe1" opacity="0.44"/>
<rect x="894.1" y="532.3" width="971.4" height="24.5" fill="#fffbe1" opacity="0.44"/>
<rect x="1437" y="107.6" width="32" height="990.7" fill="#fffbe1" opacity="0.64"/>
<rect x="894.1" y="511.9" width="971.4" height="32.7" fill="#fffbe1" opacity="0.64"/>
<rect x="1458.6" y="107.6" width="37.4" height="990.7" fill="#fffbe1" opacity="0.62"/>
<rect x="894.1" y="484.3" width="971.4" height="38.2" fill="#fffbe1" opacity="0.62"/>
<rect x="1534.2" y="107.6" width="32.8" height="990.7" fill="#fffbe1" opacity="0.64"/>
<rect x="894.1" y="411.9" width="971.4" height="33.5" fill="#fffbe1" opacity="0.64"/>
<rect x="1645" y="107.6" width="18" height="990.7" fill="#fffbe1" opacity="0.41"/>
<rect x="894.1" y="313.9" width="971.4" height="18.4" fill="#fffbe1" opacity="0.41"/>
<rect x="1651" y="107.6" width="22.8" height="990.7" fill="#fffbe1" opacity="0.64"/>
<rect x="894.1" y="302.9" width="971.4" height="23.3" fill="#fffbe1" opacity="0.64"/>
<rect x="1663.3" y="107.6" width="34.3" height="990.7" fill="#fffbe1" opacity="0.64"/>
<rect x="894.1" y="278.6" width="971.4" height="35" fill="#fffbe1" opacity="0.64"/>
<rect x="1765" y="107.6" width="17" height="990.7" fill="#fffbe1" opacity="0.41"/>
<rect x="894.1" y="192.4" width="971.4" height="17.4" fill="#fffbe1" opacity="0.41"/>
<rect x="1770" y="107.6" width="21.6" height="990.7" fill="#fffbe1" opacity="0.62"/>
<rect x="894.1" y="182.6" width="971.4" height="22" fill="#fffbe1" opacity="0.62"/>
<rect x="1781" y="107.6" width="31" height="990.7" fill="#fffbe1" opacity="0.60"/>
<rect x="894.1" y="161.8" width="971.4" height="31.6" fill="#fffbe1" opacity="0.60"/>
</g>
<g mask="url(#mx)"><g filter="url(#bl5)">
<rect x="884.1" y="1051.9" width="991.4" height="26.4" fill="#fdcaa0" fill-opacity="0.13"/>
<rect x="884.1" y="944.7" width="991.4" height="45.9" fill="#fdcaa0" fill-opacity="0.13"/>
<rect x="884.1" y="841.6" width="991.4" height="57.2" fill="#fdcaa0" fill-opacity="0.13"/>
<rect x="884.1" y="725.2" width="991.4" height="65.3" fill="#fdcaa0" fill-opacity="0.13"/>
<rect x="884.1" y="649.7" width="991.4" height="31.6" fill="#fdcaa0" fill-opacity="0.11"/>
<rect x="884.1" y="596.1" width="991.4" height="25" fill="#fdcaa0" fill-opacity="0.11"/>
<rect x="884.1" y="480.3" width="991.4" height="79.6" fill="#fdcaa0" fill-opacity="0.13"/>
<rect x="884.1" y="408.8" width="991.4" height="30.6" fill="#fdcaa0" fill-opacity="0.13"/>
<rect x="884.1" y="276.1" width="991.4" height="59.2" fill="#fdcaa0" fill-opacity="0.13"/>
<rect x="884.1" y="159.8" width="991.4" height="53.1" fill="#fdcaa0" fill-opacity="0.13"/>
</g><g filter="url(#bl1)">
<rect x="884.1" y="1061.5" width="991.4" height="16.8" fill="#fdcaa0" fill-opacity="1.00"/>
<rect x="884.1" y="963.6" width="991.4" height="17.4" fill="#fdcaa0" fill-opacity="0.95"/>
<rect x="884.1" y="952.3" width="991.4" height="10.2" fill="#fdcaa0" fill-opacity="0.42"/>
<rect x="884.1" y="869.8" width="991.4" height="18.4" fill="#fdcaa0" fill-opacity="1.00"/>
<rect x="884.1" y="851.2" width="991.4" height="17.5" fill="#fdcaa0" fill-opacity="0.95"/>
<rect x="884.1" y="774.2" width="991.4" height="7.3" fill="#fdcaa0" fill-opacity="0.58"/>
<rect x="884.1" y="752.8" width="991.4" height="20.6" fill="#fdcaa0" fill-opacity="0.95"/>
<rect x="884.1" y="734.4" width="991.4" height="15.3" fill="#fdcaa0" fill-opacity="0.68"/>
<rect x="884.1" y="659.9" width="991.4" height="21.4" fill="#fdcaa0" fill-opacity="0.89"/>
<rect x="884.1" y="596.3" width="991.4" height="14.6" fill="#fdcaa0" fill-opacity="0.58"/>
<rect x="884.1" y="538.4" width="991.4" height="12.2" fill="#fdcaa0" fill-opacity="0.53"/>
<rect x="884.1" y="518" width="991.4" height="20.4" fill="#fdcaa0" fill-opacity="1.00"/>
<rect x="884.1" y="490.5" width="991.4" height="25.9" fill="#fdcaa0" fill-opacity="0.95"/>
<rect x="884.1" y="418" width="991.4" height="21.2" fill="#fdcaa0" fill-opacity="1.00"/>
<rect x="884.1" y="320" width="991.4" height="6.1" fill="#fdcaa0" fill-opacity="0.47"/>
<rect x="884.1" y="309" width="991.4" height="11" fill="#fdcaa0" fill-opacity="1.00"/>
<rect x="884.1" y="284.7" width="991.4" height="22.8" fill="#fdcaa0" fill-opacity="1.00"/>
<rect x="884.1" y="198.5" width="991.4" height="5.1" fill="#fdcaa0" fill-opacity="0.47"/>
<rect x="884.1" y="188.7" width="991.4" height="9.8" fill="#fdcaa0" fill-opacity="0.95"/>
<rect x="884.1" y="167.9" width="991.4" height="19.4" fill="#fdcaa0" fill-opacity="0.89"/>
</g></g>
<rect x="914.1" y="963.2" width="112.8" height="115.1" fill="#fdc296" opacity="0.26"/>
<rect x="914.1" y="963.2" width="112.8" height="115.1" fill="url(#dg)"/>
<rect x="1026.9" y="869.3" width="92" height="93.9" fill="#fdc296" opacity="0.26"/>
<rect x="1026.9" y="869.3" width="92" height="93.9" fill="url(#dg)"/>
<rect x="1118.9" y="773.9" width="93.4" height="95.3" fill="#fdc296" opacity="0.26"/>
<rect x="1118.9" y="773.9" width="93.4" height="95.3" fill="url(#dg)"/>
<rect x="1212.3" y="682" width="90.1" height="92" fill="#fdc296" opacity="0.26"/>
<rect x="1212.3" y="682" width="90.1" height="92" fill="url(#dg)"/>
<rect x="1302.4" y="595.7" width="84.5" height="86.3" fill="#fdc296" opacity="0.26"/>
<rect x="1302.4" y="595.7" width="84.5" height="86.3" fill="url(#dg)"/>
<rect x="1386.9" y="517.2" width="76.9" height="78.5" fill="#fdc296" opacity="0.26"/>
<rect x="1386.9" y="517.2" width="76.9" height="78.5" fill="url(#dg)"/>
<rect x="1463.8" y="439.8" width="75.8" height="77.4" fill="#fdc296" opacity="0.26"/>
<rect x="1463.8" y="439.8" width="75.8" height="77.4" fill="url(#dg)"/>
<rect x="1539.6" y="372.7" width="65.8" height="67.2" fill="#fdc296" opacity="0.26"/>
<rect x="1539.6" y="372.7" width="65.8" height="67.2" fill="url(#dg)"/>
<rect x="1605.4" y="308.2" width="63.2" height="64.5" fill="#fdc296" opacity="0.26"/>
<rect x="1605.4" y="308.2" width="63.2" height="64.5" fill="url(#dg)"/>
<rect x="1668.6" y="247.8" width="59.1" height="60.3" fill="#fdc296" opacity="0.26"/>
<rect x="1668.6" y="247.8" width="59.1" height="60.3" fill="url(#dg)"/>
<rect x="1727.7" y="188" width="58.6" height="59.8" fill="#fdc296" opacity="0.26"/>
<rect x="1727.7" y="188" width="58.6" height="59.8" fill="url(#dg)"/>
<rect x="1786.3" y="127.6" width="59.2" height="60.4" fill="#fdc296" opacity="0.26"/>
<rect x="1786.3" y="127.6" width="59.2" height="60.4" fill="url(#dg)"/>
<clipPath id="tad">
<rect x="914.1" y="1030.4" width="46.9" height="47.9"/>
<rect x="957" y="1009" width="25" height="25.5"/>
<rect x="982" y="986.5" width="22" height="22.5"/>
<rect x="998" y="963.2" width="28.9" height="29.5"/>
<rect x="1026.9" y="937.5" width="25.1" height="25.6"/>
<rect x="1048" y="918.1" width="23" height="23.5"/>
<rect x="1069" y="890.6" width="29" height="29.6"/>
<rect x="1092" y="869.3" width="26.9" height="27.5"/>
<rect x="1118.9" y="842.6" width="26.1" height="26.6"/>
<rect x="1140" y="817.1" width="30" height="30.6"/>
<rect x="1166" y="794.6" width="26" height="26.5"/>
<rect x="1188" y="773.9" width="24.3" height="24.8"/>
<rect x="1212.3" y="745.6" width="27.7" height="28.3"/>
<rect x="1236" y="715" width="34" height="34.7"/>
<rect x="1272" y="682" width="30.4" height="31"/>
<rect x="1302.4" y="661.9" width="19.6" height="20"/>
<rect x="1318" y="635.4" width="30" height="30.6"/>
<rect x="1344" y="595.7" width="42.9" height="43.8"/>
<rect x="1386.9" y="582.3" width="13.1" height="13.4"/>
<rect x="1398" y="553.8" width="30" height="30.6"/>
<rect x="1424" y="517.2" width="39.8" height="40.6"/>
<rect x="1463.8" y="488.4" width="28.2" height="28.8"/>
<rect x="1488" y="463.9" width="28" height="28.6"/>
<rect x="1512" y="439.8" width="27.6" height="28.2"/>
<rect x="1539.6" y="403.7" width="35.4" height="36.1"/>
<rect x="1571" y="372.7" width="34.4" height="35.1"/>
<rect x="1605.4" y="341.4" width="30.6" height="31.2"/>
<rect x="1637.5" y="308.2" width="31.1" height="31.7"/>
<rect x="1668.6" y="278.2" width="29.4" height="30"/>
<rect x="1694" y="247.8" width="33.7" height="34.4"/>
<rect x="1727.7" y="214.9" width="32.3" height="33"/>
<rect x="1752" y="188" width="34.3" height="35"/>
<rect x="1786.3" y="149.5" width="37.7" height="38.5"/>
<rect x="1823" y="127.6" width="22.5" height="23"/>
</clipPath>
<rect x="914.1" y="127.6" width="931.4" height="950.7" fill="url(#dg2)" clip-path="url(#tad)"/>
<path d="M963.3,963.2V1078.3M914.1,1028.1H1026.9M982.2,963.2V1078.3M914.1,1008.8H1026.9M1051.7,869.3V963.2M1026.9,937.8H1118.9M1271,682V773.9M1212.3,714H1302.4M1275.5,682V773.9M1212.3,709.4H1302.4M1636.3,308.2V372.7M1605.4,341.1H1668.6" stroke="#fff6dc" stroke-width="1" stroke-opacity="0.75" fill="none"/>
<rect x="914.1" y="127.6" width="931.4" height="950.7" filter="url(#nz2)" opacity="0.4"/>
<path d="M914,715.3H1845" stroke="#f8875c" stroke-width="1" stroke-opacity="0.45" fill="none"/>
<path d="M1269.7,128V1078" stroke="#f8875c" stroke-width="1" stroke-opacity="0.25" fill="none"/>
<path d="M1583,128V335" stroke="#f8875c" stroke-width="1" stroke-opacity="0.5" fill="none"/>
<path d="M1387,1025.5H1445" stroke="#f8875c" stroke-width="1" stroke-opacity="0.7" fill="none"/>
<path d="M1136,256.7H1198" stroke="#f8875c" stroke-width="1" stroke-opacity="0.6" fill="none"/>
<path d="M1038,309.4H1097" stroke="#f8875c" stroke-width="1" stroke-opacity="0.6" fill="none"/>
<path d="M1268.5,890V1000" stroke="#f8875c" stroke-width="1" stroke-opacity="0.5" fill="none"/>
<path d="M1465,151.5H1540" stroke="#f8875c" stroke-width="1" stroke-opacity="0.5" fill="none"/>
<path d="M1700,395H1845" stroke="#f8875c" stroke-width="1" stroke-opacity="0.5" fill="none"/>
<path d="M930,156H1120" stroke="#f8875c" stroke-width="1" stroke-opacity="0.3" fill="none"/>
<path d="M1640,1005H1845" stroke="#f8875c" stroke-width="1" stroke-opacity="0.25" fill="none"/>
<line x1="914.1" y1="1078.3" x2="1845.5" y2="127.6" stroke="#f0401c" stroke-width="3" stroke-opacity="0.3"/>
<line x1="914.1" y1="1078.3" x2="1845.5" y2="127.6" stroke="#e6240e" stroke-width="1.5"/>
</g>
<path d="M1026.9,1078.3V127.6M1118.9,1078.3V127.6M1212.3,1078.3V127.6M1302.4,1078.3V127.6M1386.9,1078.3V127.6M1463.8,1078.3V127.6M1539.6,1078.3V127.6M1605.4,1078.3V127.6M1668.6,1078.3V127.6M1727.7,1078.3V127.6M1786.3,1078.3V127.6M914.1,963.2H1845.5M914.1,869.3H1845.5M914.1,773.9H1845.5M914.1,682H1845.5M914.1,595.7H1845.5M914.1,517.2H1845.5M914.1,439.8H1845.5M914.1,372.7H1845.5M914.1,308.2H1845.5M914.1,247.8H1845.5M914.1,188H1845.5" stroke="#000" stroke-width="2.1" stroke-dasharray="7.7 7.87" fill="none"/>
<path d="M914.1,128.1H1845.5M1845.2,1078.3V127.6" stroke="#333" stroke-width="1.5" stroke-dasharray="7.7 7.87" fill="none"/>
<path d="M970.5,1078.3v3M1072.9,1078.3v3M1165.6,1078.3v3M1257.3,1078.3v3M1344.7,1078.3v3M1425.3,1078.3v3M1501.7,1078.3v3M1572.5,1078.3v3M1637,1078.3v3M1698.2,1078.3v3M1757,1078.3v3M1815.9,1078.3v3" stroke="#333" stroke-width="1" fill="none"/>
<path d="M1385,122.3h9.1q-0.5,1.9-3.2,3q-2.4,0.8-4.8,0.2q-1.2-0.5-1.1-1.9z" fill="#000"/>
<text x="827" y="150" class="serif" font-size="21.5">chr12</text>
<text x="827" y="216" class="serif" font-size="21.5">chr11</text>
<text x="827" y="271.8" class="serif" font-size="21.5">chr10</text>
<text x="827" y="339.3" class="serif" font-size="21.5">chr9</text>
<text x="827" y="408" class="serif" font-size="21.5">chr8</text>
<text x="827" y="472" class="serif" font-size="21.5">chr7</text>
<text x="827" y="556" class="serif" font-size="21.5">chr6</text>
<text x="827" y="646" class="serif" font-size="21.5">chr5</text>
<text x="827" y="728" class="serif" font-size="21.5">chr4</text>
<text x="827" y="825" class="serif" font-size="21.5">chr3</text>
<text x="827" y="916" class="serif" font-size="21.5">chr2</text>
<text x="827" y="1028" class="serif" font-size="21.5">chr1</text>
<text transform="translate(943.5,1095.8) rotate(90)" class="serif" font-size="21.5">chr1</text>
<text transform="translate(1054.3,1095.8) rotate(90)" class="serif" font-size="21.5">chr2</text>
<text transform="translate(1145.6,1095.8) rotate(90)" class="serif" font-size="21.5">chr3</text>
<text transform="translate(1241.9,1095.8) rotate(90)" class="serif" font-size="21.5">chr4</text>
<text transform="translate(1325.4,1095.8) rotate(90)" class="serif" font-size="21.5">chr5</text>
<text transform="translate(1414.8,1095.8) rotate(90)" class="serif" font-size="21.5">chr6</text>
<text transform="translate(1498.2,1095.8) rotate(90)" class="serif" font-size="21.5">chr7</text>
<text transform="translate(1563.1,1095.8) rotate(90)" class="serif" font-size="21.5">chr8</text>
<text transform="translate(1630.8,1099.6) rotate(90)" class="serif" font-size="21.5">chr9</text>
<text transform="translate(1698.6,1095.8) rotate(90)" class="serif" font-size="21.5">chr10</text>
<text transform="translate(1754.5,1095.8) rotate(90)" class="serif" font-size="21.5">chr11</text>
<text transform="translate(1820.2,1095.8) rotate(90)" class="serif" font-size="21.5">chr12</text>
<defs><linearGradient id="cbar" x1="0" y1="0" x2="0" y2="1">
<stop offset="0" stop-color="#000"/><stop offset="0.02" stop-color="#000"/><stop offset="0.2" stop-color="#4a100a"/><stop offset="0.38" stop-color="#a31c0c"/>
<stop offset="0.49" stop-color="#f00"/><stop offset="0.6" stop-color="#ff4a1c"/><stop offset="0.75" stop-color="#fd8d5c"/><stop offset="0.9" stop-color="#fdd49e"/><stop offset="1" stop-color="#fff4c8"/></linearGradient></defs>
<rect x="1861.1" y="570.5" width="15.4" height="78.8" fill="url(#cbar)"/>
<path d="M1861.1,573.8h3m9.4,0h3M1861.1,590h3m9.4,0h3M1861.1,606.8h3m9.4,0h3M1861.1,623.4h3m9.4,0h3M1861.1,640h3m9.4,0h3" stroke="#fff" stroke-opacity="0.45" stroke-width="0.5" fill="none"/>
<text x="1882" y="576.8" class="sans" font-size="7.9" fill="#222">12.5</text>
<text x="1882" y="592.8" class="sans" font-size="7.9" fill="#222">10.0</text>
<text x="1882" y="609.8" class="sans" font-size="7.9" fill="#222">7.5</text>
<text x="1882" y="626.2" class="sans" font-size="7.9" fill="#222">5.0</text>
<text x="1882" y="642.8" class="sans" font-size="7.9" fill="#222">2.5</text>
<text x="1860.8" y="564.3" class="sans" font-size="9.6" fill="#222">V3</text>
<text x="717.3" y="17" class="serif" font-weight="bold" font-size="22">b</text>
</g>
</svg>
</body></html>
